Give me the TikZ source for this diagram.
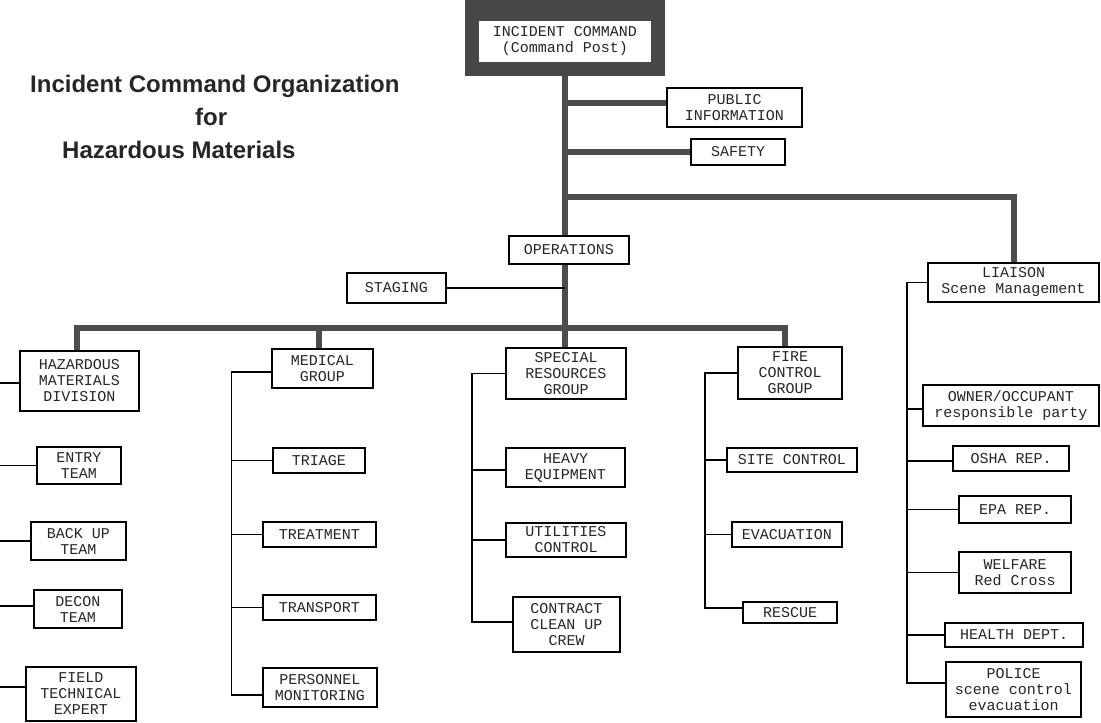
\documentclass[tikz,border=0pt]{standalone}
\usepackage{fontspec}
\setmainfont{Liberation Sans}
\newfontfamily\boxfont{Liberation Mono}
\usetikzlibrary{calc}
\begin{document}
\begin{tikzpicture}[x=1pt,y=-1pt,
  box/.style={draw=black, line width=1.1pt, fill=white, inner sep=0pt, align=center,
    text=black!85, font=\boxfont\fontsize{15}{16}\selectfont},
  bigbox/.style={draw=black!72, line width=14pt, fill=white, inner sep=0pt, align=center,
    text=black!85, font=\boxfont\fontsize{15}{16}\selectfont},
  heavy/.style={draw=black!70, line width=6pt},
  conn/.style={draw=black, line width=1.1pt},
  title/.style={font=\fontsize{24}{28}\selectfont\bfseries, text=black!85, inner sep=0pt, anchor=base west}]
\useasboundingbox (0,0) rectangle (1101,723);

% title
\node[title] (t1) at (30,92) {Incident Command Organization};
\node[title] (t2) at (195,125) {for};
\node[title] (t3) at (62,158) {Hazardous Materials};

% top level
\node[bigbox, minimum width=186pt, minimum height=55pt] (ic) at (565,41.5) {INCIDENT COMMAND\\(Command Post)};
\fill[black!72] (ic.north west) rectangle ($(ic.north east)+(0,-7.5)$);
\node[box, minimum width=135pt, minimum height=39pt] (pub) at (734.5,107.5) {PUBLIC\\INFORMATION};
\node[box, minimum width=94pt, minimum height=26pt] (safety) at (738,152) {SAFETY};
\node[box, minimum width=120pt, minimum height=28pt] (ops) at (569,250) {OPERATIONS};
\node[box, minimum width=99pt, minimum height=30pt] (staging) at (396.5,288) {STAGING};
\node[box, minimum width=171pt, minimum height=39pt] (liaison) at (1013.5,282.5) {LIAISON\\Scene Management};

% hazmat
\node[box, minimum width=119pt, minimum height=60pt] (hazmat) at (79.5,381) {HAZARDOUS\\MATERIALS\\DIVISION};
\node[box, minimum width=84pt, minimum height=37pt] (entry) at (79,465.5) {ENTRY\\TEAM};
\node[box, minimum width=95pt, minimum height=38pt] (backup) at (78.5,541) {BACK UP\\TEAM};
\node[box, minimum width=88pt, minimum height=38pt] (decon) at (78,609) {DECON\\TEAM};
\node[box, minimum width=110pt, minimum height=54pt] (field) at (81,694) {FIELD\\TECHNICAL\\EXPERT};

% medical
\node[box, minimum width=101pt, minimum height=39pt] (medical) at (322.5,368.5) {MEDICAL\\GROUP};
\node[box, minimum width=92pt, minimum height=25pt] (triage) at (319,460.5) {TRIAGE};
\node[box, minimum width=113pt, minimum height=25pt] (treatment) at (319.5,534.5) {TREATMENT};
\node[box, minimum width=113pt, minimum height=25pt] (transport) at (319.5,607.5) {TRANSPORT};
\node[box, minimum width=114pt, minimum height=39pt] (personnel) at (320,687.5) {PERSONNEL\\MONITORING};

% special resources
\node[box, minimum width=120pt, minimum height=51pt] (special) at (566,373.5) {SPECIAL\\RESOURCES\\GROUP};
\node[box, minimum width=119pt, minimum height=39pt] (heavyeq) at (565.5,467.5) {HEAVY\\EQUIPMENT};
\node[box, minimum width=120pt, minimum height=34pt] (utilities) at (566,540) {UTILITIES\\CONTROL};
\node[box, minimum width=107pt, minimum height=55pt] (contract) at (566.5,624.5) {CONTRACT\\CLEAN UP\\CREW};

% fire control
\node[box, minimum width=104pt, minimum height=52pt] (fire) at (790,373) {FIRE\\CONTROL\\GROUP};
\node[box, minimum width=130pt, minimum height=24pt] (site) at (792,460) {SITE CONTROL};
\node[box, minimum width=110pt, minimum height=25pt] (evac) at (787,534.5) {EVACUATION};
\node[box, minimum width=94pt, minimum height=21pt] (rescue) at (790,612.5) {RESCUE};

% liaison children
\node[box, minimum width=176pt, minimum height=41pt] (owner) at (1011,405.5) {OWNER/OCCUPANT\\responsible party};
\node[box, minimum width=116pt, minimum height=25pt] (osha) at (1011,458.5) {OSHA REP.};
\node[box, minimum width=112pt, minimum height=27pt] (epa) at (1015,509.5) {EPA REP.};
\node[box, minimum width=112pt, minimum height=41pt] (welfare) at (1015,572.5) {WELFARE\\Red Cross};
\node[box, minimum width=138pt, minimum height=24pt] (health) at (1014,635) {HEALTH DEPT.};
\node[box, minimum width=135pt, minimum height=55pt] (police) at (1013.5,689.5) {POLICE\\scene control\\evacuation};

% helper coordinates
\coordinate (yPub) at (0,103);
\coordinate (yLia) at (0,197);
\coordinate (yBar) at (0,328);
\coordinate (xH) at (77,0);
\coordinate (xM) at (319,0);
\coordinate (xF) at (785,0);
\coordinate (xL) at (0,0);
\coordinate (xMb) at (232,0);
\coordinate (xSb) at (472,0);
\coordinate (xFb) at (705,0);
\coordinate (xLb) at (907,0);

% heavy connectors
\draw[heavy] (ic.south) -- (ic.south |- ops.north);
\draw[heavy] (ic.south |- ops.south) -- (ic.south |- special.north);
\draw[heavy] (ic.south |- yPub) -- (pub.west |- yPub);
\draw[heavy] (ic.south |- safety.west) -- (safety.west);
\draw[heavy] (ic.south |- yLia) -| (liaison.north);
\draw[heavy] (xH |- hazmat.north) -- (xH |- yBar) -- (xF |- yBar) -- (xF |- fire.north);
\draw[heavy] (xM |- yBar) -- (xM |- medical.north);

% staging
\draw[conn] (staging.east) -- (staging.east -| ic.south);

% hazmat connectors
\draw[conn] ($(hazmat.west)+(0,2)$) -- ++(-20,0);
\draw[conn] (entry.west) -- (entry.west -| xL);
\draw[conn] (backup.west) -- (backup.west -| xL);
\draw[conn] ($(decon.west)+(0,-3)$) -- ++(-34,0);
\draw[conn] ($(field.west)+(0,-7)$) -- ++(-26,0);

% medical connectors
\draw[conn] ($(medical.west)+(0,3.5)$) -- ++(-40,0) |- ($(personnel.west)+(0,7.5)$);
\draw[conn] (triage.west) -- (triage.west -| xMb);
\draw[conn] (treatment.west) -- (treatment.west -| xMb);
\draw[conn] (transport.west) -- (transport.west -| xMb);

% special connectors
\draw[conn] (special.west) -- (special.west -| xSb) |- ($(contract.west)+(0,-2.5)$);
\draw[conn] ($(heavyeq.west)+(0,2.5)$) -- ++(-34,0);
\draw[conn] (utilities.west) -- (utilities.west -| xSb);

% fire connectors
\draw[conn] (fire.west) -- (fire.west -| xFb) |- ($(rescue.west)+(0,-4.5)$);
\draw[conn] (site.west) -- (site.west -| xFb);
\draw[conn] (evac.west) -- (evac.west -| xFb);

% liaison connectors
\draw[conn] (liaison.west) -- (liaison.west -| xLb) |- ($(police.west)+(0,-6.5)$);
\draw[conn] ($(owner.west)+(0,3.5)$) -- ++(-16,0);
\draw[conn] ($(osha.west)+(0,2.5)$) -- ++(-46,0);
\draw[conn] (epa.west) -- (epa.west -| xLb);
\draw[conn] (welfare.west) -- (welfare.west -| xLb);
\draw[conn] (health.west) -- (health.west -| xLb);
\end{tikzpicture}
\end{document}
